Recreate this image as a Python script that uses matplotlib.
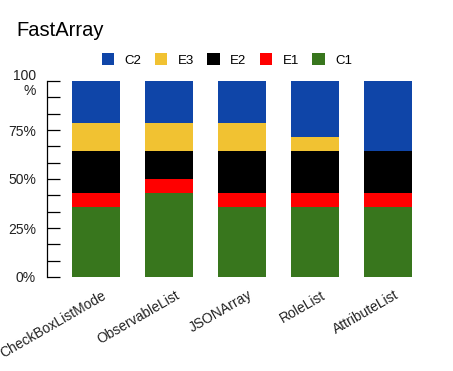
import numpy as np
import matplotlib
matplotlib.use("Agg")
from matplotlib import pyplot as plt
from matplotlib.transforms import ScaledTranslation

plt.rcParams['font.family'] = ['Liberation Sans', 'DejaVu Sans']

categories = ["CheckBoxListMode", "ObservableList", "JSONArray", "RoleList", "AttributeList"]
series = ["C1", "E1", "E2", "E3", "C2"]
colors = ["#38761d", "#ff0000", "#000000", "#f1c232", "#0f45a8"]
C1 = [5, 6, 5, 5, 5]
E1 = [1, 1, 1, 1, 1]
E2 = [3, 2, 3, 3, 3]
E3 = [2, 2, 2, 1, 0]
C2 = [3, 3, 3, 4, 5]

data = np.array([C1, E1, E2, E3, C2], dtype=float)
pct = data / data.sum(axis=0) * 100

fig = plt.figure(figsize=(4.53, 3.71), dpi=100)
ax = fig.add_axes([47 / 453, 94 / 371, 390 / 453, 196 / 371])

x = np.arange(len(categories))
bottom = np.zeros(len(categories))
handles = []
for i in range(len(series)):
    b = ax.bar(x, pct[i], bottom=bottom, width=0.66, color=colors[i], label=series[i])
    handles.append(b)
    bottom += pct[i]

ax.set_xlim(-0.67, 4.67)
ax.set_ylim(0, 100)
ax.set_yticks(np.linspace(0, 100, 13))
ylabels = [""] * 13
ylabels[0] = "0%"
ylabels[3] = "25%"
ylabels[6] = "50%"
ylabels[9] = "75%"
ylabels[12] = "100\n%"
ax.set_yticklabels(ylabels, fontsize=10, color="#222222", linespacing=1.1)
ax.tick_params(axis="y", direction="in", length=9, width=0.9, pad=8)
ax.tick_params(axis="x", length=0, pad=8)
ax.set_xticks(x)
ax.set_xticklabels(categories, rotation=30, ha="right", rotation_mode="anchor",
                   fontsize=10, color="#222222")
shift = ScaledTranslation(6 / 100, 0, fig.dpi_scale_trans)
for lab in ax.get_xticklabels():
    lab.set_transform(lab.get_transform() + shift)
for s in ["top", "right", "bottom"]:
    ax.spines[s].set_visible(False)
ax.spines["left"].set_linewidth(0.9)

fig.text(16 / 453, 1 - 30 / 371, "FastArray", fontsize=14.5, va="center", ha="left")
fig.legend(handles[::-1], series[::-1], loc="center", bbox_to_anchor=(227 / 453, 1 - 60 / 371),
           ncol=5, frameon=False, fontsize=9.5, handlelength=0.95, handleheight=0.95,
           handletextpad=0.8, columnspacing=1.0)

fig.savefig("out.png", dpi=100)
